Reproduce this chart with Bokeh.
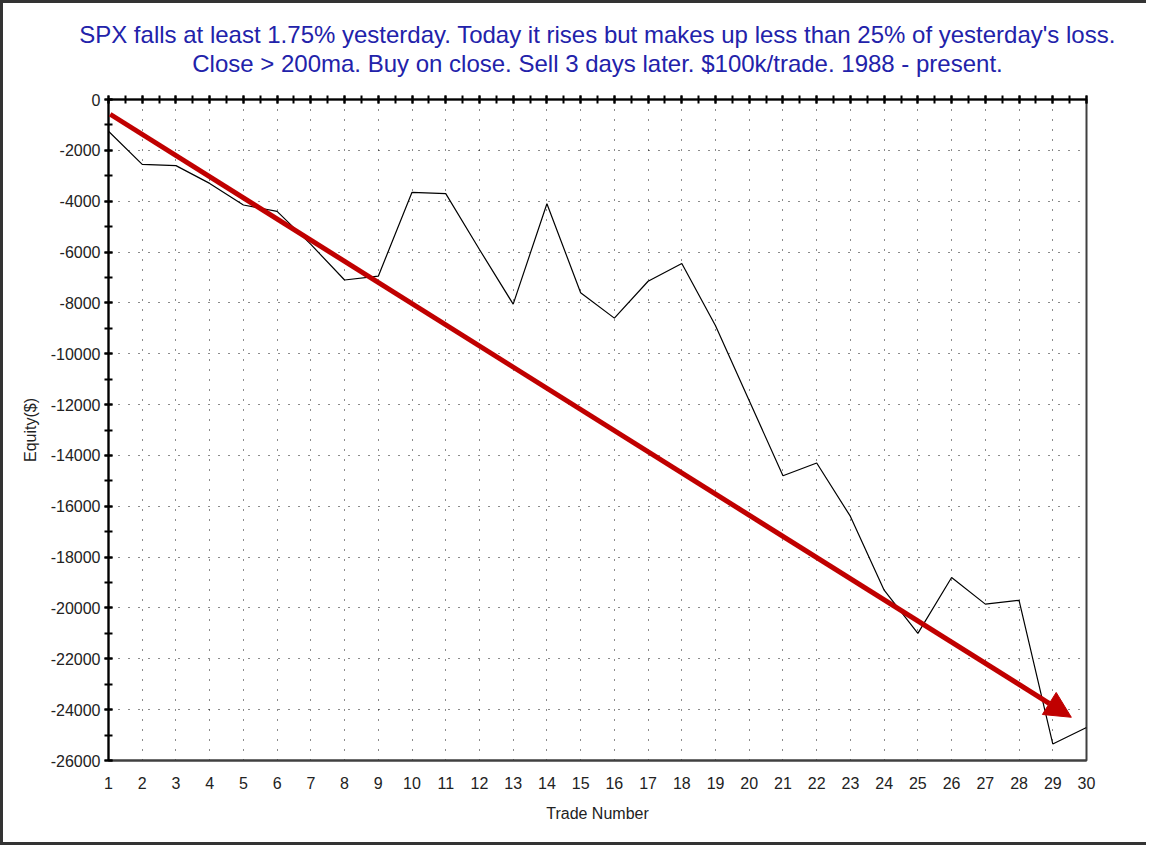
from bokeh.plotting import figure
from bokeh.models import (Range1d, LinearAxis, SingleIntervalTicker, FixedTicker,
                          Arrow, NormalHead, Title, PrintfTickFormatter)
from bokeh.embed import file_html
from bokeh.resources import INLINE

# ---- data ----
trade_number = list(range(1, 31))
equity = [-1250, -2550, -2600, -3300, -4150, -4400, -5700, -7100, -6950, -3650,
          -3700, -5900, -8050, -4100, -7600, -8600, -7150, -6450, -8900, -11850,
          -14800, -14300, -16400, -19300, -21000, -18800, -19850, -19700, -25350, -24700]
trend_trade = [1.05, 29.55]
trend_equity = [-580, -24300]
x_ticks = list(range(1, 31))
y_ticks = list(range(0, -26001, -2000))
title_lines = [
    "SPX falls at least 1.75% yesterday. Today it rises but makes up less than 25% of yesterday's loss.",
    "Close > 200ma. Buy on close. Sell 3 days later. $100k/trade. 1988 - present.",
]

FONT = "Liberation Sans"
TXT = "#222222"

p = figure(width=1146, height=845, output_backend="svg", toolbar_location=None,
           x_range=Range1d(1, 30), y_range=Range1d(-26000, 0),
           min_border_left=105, min_border_right=63, min_border_top=96, min_border_bottom=88,
           background_fill_color="white", border_fill_color="white")
p.styles = {"border-left": "3px solid #333333", "border-top": "3px solid #333333",
            "border-bottom": "3px solid #333333", "border-right": "none"}
p.outline_line_color = "#404040"
p.outline_line_width = 2

# grid
p.xgrid.ticker = FixedTicker(ticks=x_ticks)
p.ygrid.ticker = FixedTicker(ticks=y_ticks)
for g in (p.xgrid, p.ygrid):
    g.grid_line_color = "black"
    g.grid_line_dash = "1 9"
    g.grid_line_width = 1
    g.grid_line_alpha = 0.9

# bottom axis
xa = p.xaxis[0]
xa.ticker = FixedTicker(ticks=x_ticks)
xa.major_tick_in = 0
xa.major_tick_out = 0
xa.minor_tick_in = 0
xa.minor_tick_out = 0
xa.axis_line_color = "#404040"
xa.axis_line_width = 2
xa.major_label_standoff = 16
xa.major_label_text_font = FONT
xa.major_label_text_font_size = "16px"
xa.major_label_text_color = TXT
xa.axis_label = "Trade Number"
xa.axis_label_text_font = FONT
xa.axis_label_text_font_size = "16px"
xa.axis_label_text_font_style = "normal"
xa.axis_label_text_color = TXT
xa.axis_label_standoff = 13

# left axis
ya = p.yaxis[0]
ya.ticker = SingleIntervalTicker(interval=2000, num_minor_ticks=2)
ya.formatter = PrintfTickFormatter(format="%d")
ya.major_tick_in = 4
ya.major_tick_out = 4
ya.minor_tick_in = 4
ya.minor_tick_out = 4
ya.major_tick_line_width = 2
ya.minor_tick_line_width = 2
ya.axis_line_color = "black"
ya.axis_line_width = 2
ya.major_label_standoff = 4
ya.major_label_text_font = FONT
ya.major_label_text_font_size = "16px"
ya.major_label_text_color = TXT
ya.axis_label = "Equity($)"
ya.axis_label_text_font = FONT
ya.axis_label_text_font_size = "16px"
ya.axis_label_text_font_style = "normal"
ya.axis_label_text_color = TXT
ya.axis_label_standoff = 9

# top axis: ticks only
ta = LinearAxis(ticker=SingleIntervalTicker(interval=1, num_minor_ticks=2))
ta.major_tick_in = 4
ta.major_tick_out = 4
ta.minor_tick_in = 4
ta.minor_tick_out = 4
ta.major_tick_line_width = 2
ta.minor_tick_line_width = 2
ta.axis_line_color = "black"
ta.axis_line_width = 2
ta.major_label_text_font_size = "0px"
ta.major_label_text_alpha = 0
ta.major_label_standoff = 0
p.add_layout(ta, "above")

# equity curve
p.line(trade_number, equity, line_color="black", line_width=1.2)

# trend arrow
p.add_layout(Arrow(end=NormalHead(size=26, fill_color="#c00000", line_color="#c00000"),
                   x_start=trend_trade[0], y_start=trend_equity[0],
                   x_end=trend_trade[1], y_end=trend_equity[1],
                   line_color="#c00000", line_width=5))

# blank spacer between the plot and the title block
p.add_layout(Title(text=" ", text_font=FONT, text_font_size="16px", standoff=0), "above")

# titles (line 2 nearest the plot, line 1 above it)
for txt in reversed(title_lines):
    p.add_layout(Title(text=txt, align="center", text_font=FONT, text_font_size="24px",
                       text_font_style="normal", text_color="#2222aa",
                       standoff=0), "above")

open("out.html", "w").write(file_html(p, INLINE))
